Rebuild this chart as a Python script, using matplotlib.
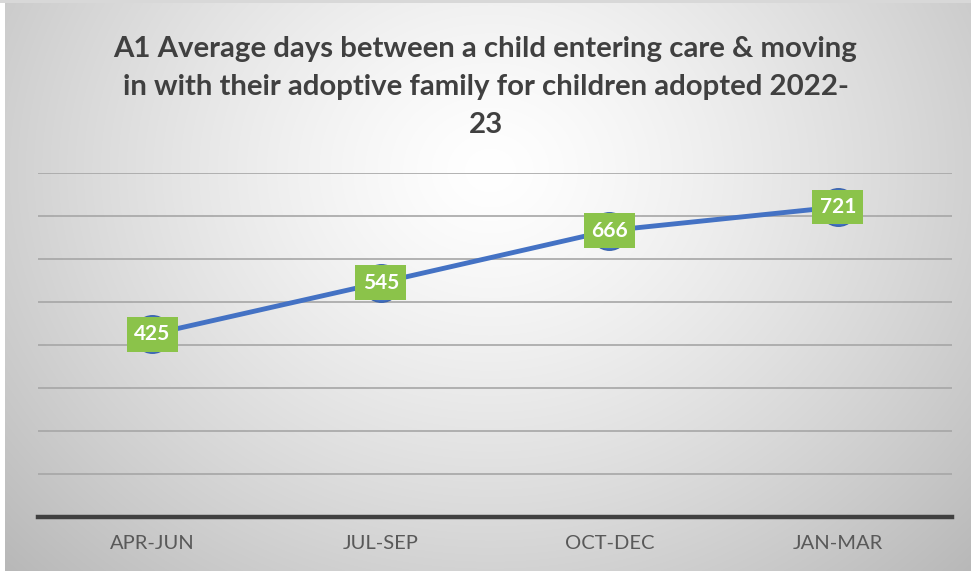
import numpy as np
import matplotlib
matplotlib.use("Agg")
import matplotlib.pyplot as plt

categories = ["APR-JUN", "JUL-SEP", "OCT-DEC", "JAN-MAR"]
values = [425, 545, 666, 721]
title = "A1 Average days between a child entering care & moving\nin with their adoptive family for children adopted 2022-\n23"

W, H = 971, 577
fig = plt.figure(figsize=(W / 100, H / 100), dpi=100)

# background radial gradient
bg = fig.add_axes([0, 0, 1, 1])
yy, xx = np.mgrid[0:H, 0:W]
cx, cy = 490, 170
r = np.sqrt(((xx - cx) / 560.0) ** 2 + ((yy - cy) / 480.0) ** 2)
g = 1.0 - 0.22 * np.clip(r, 0, 1.3) ** 1.3
img = np.dstack([g, g, g])
img[:, :5] = 1.0
img[-6:, :] = 1.0
img[:3, :] = 0.85
bg.imshow(img, aspect="auto", extent=[0, W, H, 0], interpolation="bilinear")
bg.set_xlim(0, W)
bg.set_ylim(H, 0)
bg.axis("off")

ax = fig.add_axes([38 / W, 1 - 517 / H, (952 - 38) / W, (517 - 173) / H])
ax.patch.set_alpha(0)
x = np.arange(len(categories))
ax.set_xlim(-0.5, len(categories) - 0.5)
ax.set_ylim(0, 800)
ax.set_yticks(np.arange(100, 801, 100))
ax.yaxis.grid(True, color="#a6a6a6", lw=1.2)
ax.set_axisbelow(True)
ax.tick_params(axis="y", left=False, labelleft=False)
ax.tick_params(axis="x", length=0, pad=13, labelsize=14.5, colors="#595959")
ax.set_xticks(x)
ax.set_xticklabels(categories, family="Lato")
for s in ["top", "right", "left"]:
    ax.spines[s].set_visible(False)
ax.spines["bottom"].set_color("#404040")
ax.spines["bottom"].set_linewidth(3.2)

ax.plot(x, values, color="#4472C4", lw=3.5, marker="o", ms=27,
        markerfacecolor="#4472C4", markeredgecolor="#3b64ad", zorder=3)
for xi, v in zip(x, values):
    ax.text(xi, v, str(v), ha="center", va="center", color="white",
            fontsize=15, fontweight="bold", family="Lato", zorder=4,
            bbox=dict(boxstyle="square,pad=0.35", fc="#8BC34A", ec="none"))

fig.text(0.5, 1 - 87 / H, title, ha="center", va="center", fontsize=21.2,
         fontweight="bold", color="#404040", family="Lato", linespacing=1.55)

fig.savefig("out.png", dpi=100)
